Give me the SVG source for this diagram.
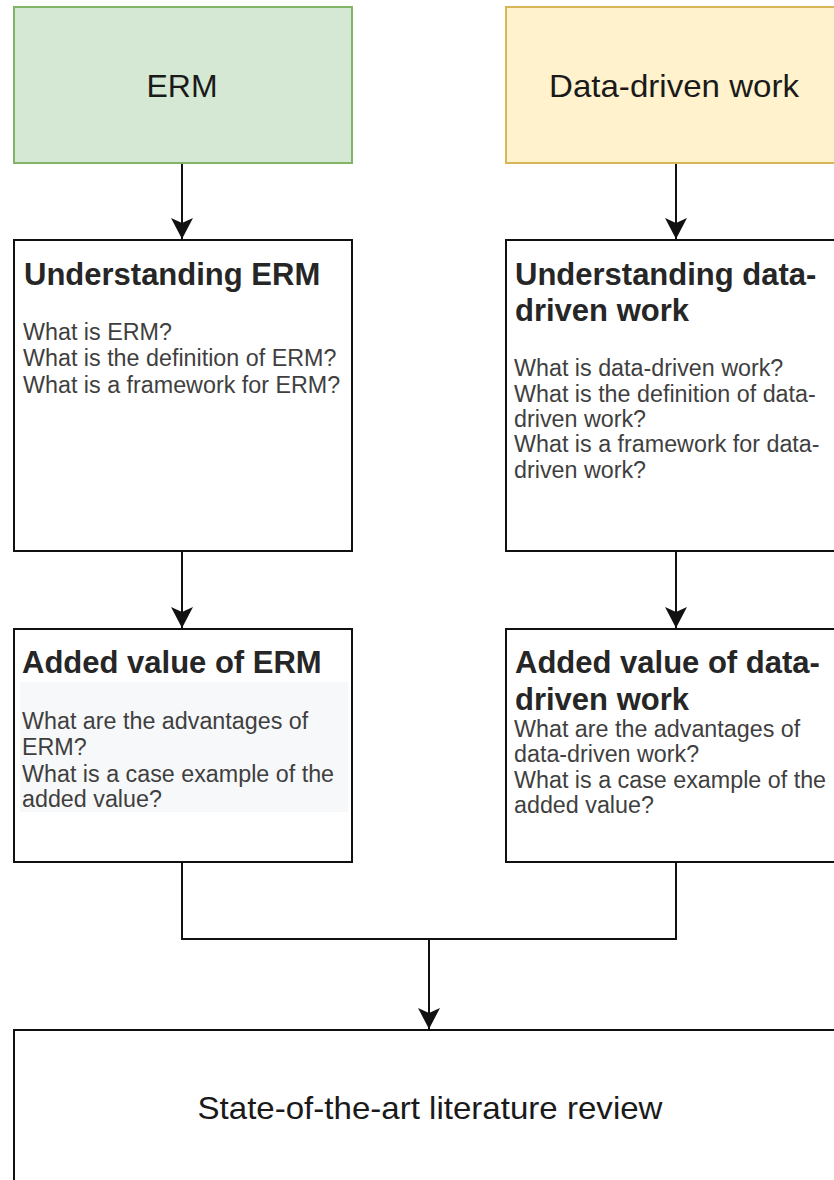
<svg xmlns="http://www.w3.org/2000/svg" width="834" height="1180" viewBox="0 0 834 1180">
  <style>
    .box { fill: #ffffff; stroke: #111111; stroke-width: 2; }
    .title { font-family: "Liberation Sans", Arial, sans-serif; font-size: 32px; fill: #1a1a1a; }
    .head { font-family: "Liberation Sans", Arial, sans-serif; font-size: 31px; font-weight: bold; fill: #262626; }
    .body { font-family: "Liberation Sans", Arial, sans-serif; font-size: 23.3px; fill: #3f3f3f; }
    .conn { fill: none; stroke: #111111; stroke-width: 2; }
  </style>
  <defs>
    <marker id="arrow" markerUnits="userSpaceOnUse" markerWidth="24" markerHeight="24" refX="21" refY="11" orient="auto">
      <path d="M0,0 L21,11 L0,22 L5,11 Z" fill="#111111"/>
    </marker>
  </defs>

  <rect width="834" height="1180" fill="#ffffff"/>

  <!-- connectors -->
  <g id="connectors">
    <line class="conn" x1="182" y1="163" x2="182" y2="239" marker-end="url(#arrow)"/>
    <line class="conn" x1="676" y1="163" x2="676" y2="239" marker-end="url(#arrow)"/>
    <line class="conn" x1="182" y1="551" x2="182" y2="628" marker-end="url(#arrow)"/>
    <line class="conn" x1="676" y1="551" x2="676" y2="628" marker-end="url(#arrow)"/>
    <path class="conn" d="M182,862 V939 H676 V862"/>
    <line class="conn" x1="429" y1="939" x2="429" y2="1029" marker-end="url(#arrow)"/>
  </g>

  <!-- top row: topics -->
  <g id="erm">
    <rect x="14" y="7" width="338" height="156" fill="#d5e8d4" stroke="#82b366" stroke-width="2"/>
    <text class="title" x="182" y="97" text-anchor="middle">ERM</text>
  </g>
  <g id="data-driven-work">
    <rect x="506" y="7" width="340" height="156" fill="#fff2cc" stroke="#d6b656" stroke-width="2"/>
    <text class="title" x="674" y="97" text-anchor="middle" textLength="250" lengthAdjust="spacingAndGlyphs">Data-driven work</text>
  </g>

  <!-- second row: understanding -->
  <g id="understanding-erm">
    <rect class="box" x="14" y="240" width="338" height="311"/>
    <text class="head" x="24" y="285">Understanding ERM</text>
    <text class="body">
      <tspan x="23" y="340">What is ERM?</tspan>
      <tspan x="23" y="366">What is the definition of ERM?</tspan>
      <tspan x="23" y="393">What is a framework for ERM?</tspan>
    </text>
  </g>
  <g id="understanding-ddw">
    <rect class="box" x="506" y="240" width="340" height="311"/>
    <text class="head">
      <tspan x="515" y="285">Understanding data-</tspan>
      <tspan x="515" y="321">driven work</tspan>
    </text>
    <text class="body">
      <tspan x="514" y="376">What is data-driven work?</tspan>
      <tspan x="514" y="402">What is the definition of data-</tspan>
      <tspan x="514" y="427">driven work?</tspan>
      <tspan x="514" y="452">What is a framework for data-</tspan>
      <tspan x="514" y="478">driven work?</tspan>
    </text>
  </g>

  <!-- third row: added value -->
  <g id="added-value-erm">
    <rect class="box" x="14" y="629" width="338" height="233"/>
    <rect x="20" y="682" width="328" height="130" fill="#f7f8fa"/>
    <text class="head" x="22" y="673">Added value of ERM</text>
    <text class="body">
      <tspan x="22" y="729">What are the advantages of</tspan>
      <tspan x="22" y="755">ERM?</tspan>
      <tspan x="22" y="782">What is a case example of the</tspan>
      <tspan x="22" y="807">added value?</tspan>
    </text>
  </g>
  <g id="added-value-ddw">
    <rect class="box" x="506" y="629" width="340" height="233"/>
    <text class="head">
      <tspan x="515" y="673">Added value of data-</tspan>
      <tspan x="515" y="710">driven work</tspan>
    </text>
    <text class="body">
      <tspan x="514" y="737">What are the advantages of</tspan>
      <tspan x="514" y="762">data-driven work?</tspan>
      <tspan x="514" y="788">What is a case example of the</tspan>
      <tspan x="514" y="813">added value?</tspan>
    </text>
  </g>

  <!-- bottom: review -->
  <g id="literature-review">
    <rect class="box" x="14" y="1030" width="832" height="156"/>
    <text class="title" x="430" y="1119" text-anchor="middle" textLength="465" lengthAdjust="spacingAndGlyphs">State-of-the-art literature review</text>
  </g>
</svg>
